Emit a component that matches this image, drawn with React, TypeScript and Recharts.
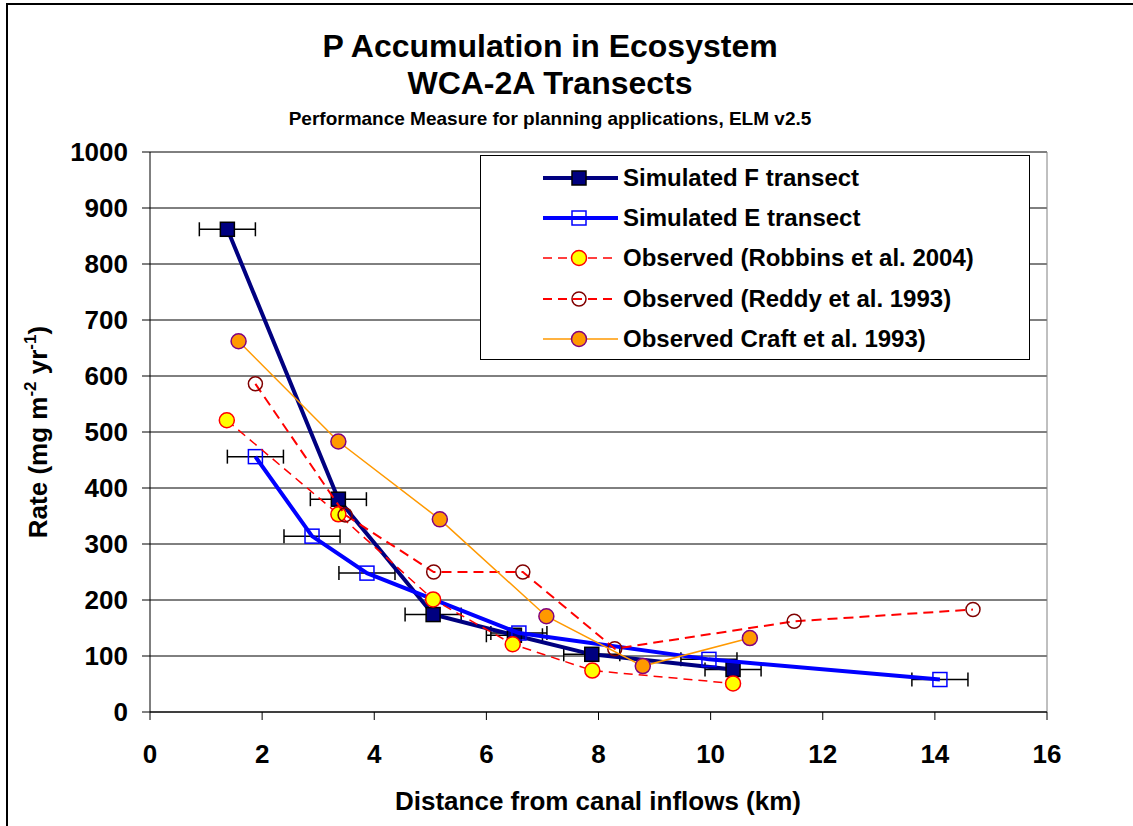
import React from "react";
import {
  ScatterChart,
  Scatter,
  XAxis,
  YAxis,
  CartesianGrid,
  ErrorBar,
  Legend,
  Label,
  ReferenceLine,
} from "recharts";

const FONT = "'Liberation Sans', Arial, sans-serif";

const xTicks = [0, 2, 4, 6, 8, 10, 12, 14, 16];
const yTicks = [0, 100, 200, 300, 400, 500, 600, 700, 800, 900, 1000];

const seriesNames = [
  "Simulated F transect",
  "Simulated E transect",
  "Observed (Robbins et al. 2004)",
  "Observed (Reddy et al. 1993)",
  "Observed Craft et al. 1993)",
];

// simulated transects (km, rate, +/- km)
const fDist = [1.38, 3.36, 5.05, 6.5, 7.88, 10.4];
const fRate = [862, 380, 174, 137, 103, 76];
const fErr = [0.5, 0.5, 0.5, 0.5, 0.5, 0.5];

const eDist = [1.88, 2.89, 3.87, 6.58, 9.97, 14.09];
const eRate = [456, 314, 248, 141, 94, 58];
const eErr = [0.5, 0.5, 0.5, 0.5, 0.5, 0.5];

// observations
const robbinsDist = [1.37, 3.36, 5.05, 6.47, 7.89, 10.4];
const robbinsRate = [521, 353, 201, 121, 74, 51];

const reddyDist = [1.88, 3.48, 5.06, 6.65, 8.29, 11.49, 14.68];
const reddyRate = [586, 352, 250, 250, 113, 162, 183];

const craftDist = [1.58, 3.36, 5.17, 7.07, 8.79, 10.7];
const craftRate = [662, 483, 344, 171, 82, 132];

const pts = (xs: number[], ys: number[], errs?: number[]) =>
  xs.map((x, i) => ({ x, y: ys[i], ex: errs ? errs[i] : 0 }));

const fData = pts(fDist, fRate, fErr);
const eData = pts(eDist, eRate, eErr);
const robbinsData = pts(robbinsDist, robbinsRate);
const reddyData = pts(reddyDist, reddyRate);
const craftData = pts(craftDist, craftRate);

const FSquare = ({ cx, cy }: any) => (
  <rect x={cx - 7} y={cy - 7} width={14} height={14} fill="#000080" stroke="#000" strokeWidth={1.5} />
);
const ESquare = ({ cx, cy }: any) => (
  <rect x={cx - 7} y={cy - 7} width={14} height={14} fill="none" stroke="#0000ff" strokeWidth={1.5} />
);
const RobbinsDot = ({ cx, cy }: any) => (
  <circle cx={cx} cy={cy} r={7.5} fill="#ffff00" stroke="#ff0000" strokeWidth={1.5} />
);
const ReddyDot = ({ cx, cy }: any) => (
  <circle cx={cx} cy={cy} r={7} fill="none" stroke="#800000" strokeWidth={1.5} />
);
const CraftDot = ({ cx, cy }: any) => (
  <circle cx={cx} cy={cy} r={7.5} fill="#ff9900" stroke="#800080" strokeWidth={1.5} />
);

const legendIcons = [
  { stroke: "#000080", width: 4, dash: undefined, Shape: FSquare },
  { stroke: "#0000ff", width: 4, dash: undefined, Shape: ESquare },
  { stroke: "#ff0000", width: 1.5, dash: "9 6", Shape: RobbinsDot },
  { stroke: "#ff0000", width: 2, dash: "9 6", Shape: ReddyDot },
  { stroke: "#ff9900", width: 1.5, dash: undefined, Shape: CraftDot },
];

const renderLegend = () => (
  <div
    style={{
      position: "relative",
      width: 550,
      height: 205,
      border: "1px solid #000",
      background: "#fff",
      boxSizing: "border-box",
      fontFamily: FONT,
    }}
  >
    {seriesNames.map((name, i) => {
      const ic = legendIcons[i];
      const top = [22, 62, 102, 143, 183][i] - 20;
      return (
        <div key={name} style={{ position: "absolute", left: 0, top, height: 40, width: 550 }}>
          <svg width={140} height={40} style={{ position: "absolute", left: 0, top: 0 }}>
            <line x1={62} y1={20} x2={137} y2={20} stroke={ic.stroke} strokeWidth={ic.width} strokeDasharray={ic.dash} />
            <ic.Shape cx={98} cy={20} />
          </svg>
          <div
            style={{
              position: "absolute",
              left: 142,
              top: 0,
              lineHeight: "40px",
              fontSize: 24,
              fontWeight: "bold",
              color: "#000",
              whiteSpace: "nowrap",
            }}
          >
            {name}
          </div>
        </div>
      );
    })}
  </div>
);

const tickStyle = { fontSize: 26, fontWeight: "bold", fill: "#000", fontFamily: FONT };

const App = () => {
  return (
    <div style={{ position: "absolute", left: 0, top: 0, width: 1133, height: 826, overflow: "hidden", background: "#fff" }}>
      <div
        style={{
          position: "absolute",
          left: 6,
          top: 3,
          width: 1140,
          height: 840,
          borderTop: "2px solid #000",
          borderLeft: "2px solid #000",
        }}
      />
      <div style={{ position: "absolute", left: 0, top: 0, fontFamily: FONT, fontWeight: "bold", color: "#000" }}>
        <div style={{ position: "absolute", left: 0, width: 1100, top: 30, textAlign: "center", fontSize: 32, lineHeight: "32px" }}>
          P Accumulation in Ecosystem
        </div>
        <div style={{ position: "absolute", left: 0, width: 1100, top: 67, textAlign: "center", fontSize: 32, lineHeight: "32px" }}>
          WCA-2A Transects
        </div>
        <div style={{ position: "absolute", left: 0, width: 1100, top: 109, textAlign: "center", fontSize: 19, lineHeight: "19px" }}>
          Performance Measure for planning applications, ELM v2.5
        </div>
      </div>
      <div style={{ position: "absolute", left: 0, top: 0 }}>
        <ScatterChart width={1133} height={826} margin={{ top: 152, right: 86, bottom: 0, left: 0 }}>
          <CartesianGrid vertical={false} stroke="#000" />
          <ReferenceLine x={16} stroke="#808080" />
          <XAxis
            type="number"
            dataKey="x"
            domain={[0, 16]}
            ticks={xTicks}
            interval={0}
            allowDataOverflow
            height={114}
            tickSize={8}
            tickMargin={25}
            stroke="#000"
            tick={tickStyle}
          >
            <Label
              content={() => (
                <text x={598} y={810} textAnchor="middle" fontFamily={FONT} fontSize={26} fontWeight="bold" fill="#000">
                  Distance from canal inflows (km)
                </text>
              )}
            />
          </XAxis>
          <YAxis
            type="number"
            dataKey="y"
            domain={[0, 1000]}
            ticks={yTicks}
            interval={0}
            allowDataOverflow
            width={150}
            tickSize={8}
            tickMargin={14}
            stroke="#000"
            tick={tickStyle}
          >
            <Label
              content={() => (
                <text
                  x={47}
                  y={432}
                  transform="rotate(-90 47 432)"
                  textAnchor="middle"
                  fontFamily={FONT}
                  fontSize={26}
                  fontWeight="bold"
                  fill="#000"
                >
                  Rate (mg m
                  <tspan dy={-11} fontSize={17}>-2</tspan>
                  <tspan dy={11}> yr</tspan>
                  <tspan dy={-11} fontSize={17}>-1</tspan>
                  <tspan dy={11}>)</tspan>
                </text>
              )}
            />
          </YAxis>
          <Scatter
            name={seriesNames[0]}
            data={fData}
            fill="#000080"
            line={{ stroke: "#000080", strokeWidth: 4 }}
            lineType="joint"
            shape={FSquare}
            isAnimationActive={false}
          >
            <ErrorBar dataKey="ex" direction="x" width={7} stroke="#000" strokeWidth={1.5} />
          </Scatter>
          <Scatter
            name={seriesNames[1]}
            data={eData}
            fill="#0000ff"
            line={{ stroke: "#0000ff", strokeWidth: 4 }}
            lineType="joint"
            shape={ESquare}
            isAnimationActive={false}
          >
            <ErrorBar dataKey="ex" direction="x" width={7} stroke="#000" strokeWidth={1.5} />
          </Scatter>
          <Scatter
            name={seriesNames[2]}
            data={robbinsData}
            fill="#ff0000"
            line={{ stroke: "#ff0000", strokeWidth: 1.5, strokeDasharray: "9 6" }}
            lineType="joint"
            shape={RobbinsDot}
            isAnimationActive={false}
          />
          <Scatter
            name={seriesNames[3]}
            data={reddyData}
            fill="#ff0000"
            line={{ stroke: "#ff0000", strokeWidth: 2, strokeDasharray: "10 6" }}
            lineType="joint"
            shape={ReddyDot}
            isAnimationActive={false}
          />
          <Scatter
            name={seriesNames[4]}
            data={craftData}
            fill="#ff9900"
            line={{ stroke: "#ff9900", strokeWidth: 1.5 }}
            lineType="joint"
            shape={CraftDot}
            isAnimationActive={false}
          />
          <Legend
            layout="vertical"
            align="center"
            verticalAlign="middle"
            wrapperStyle={{ left: 480, top: 155, width: 550, height: 205 }}
            content={renderLegend}
          />
        </ScatterChart>
      </div>
    </div>
  );
};

export default App;
